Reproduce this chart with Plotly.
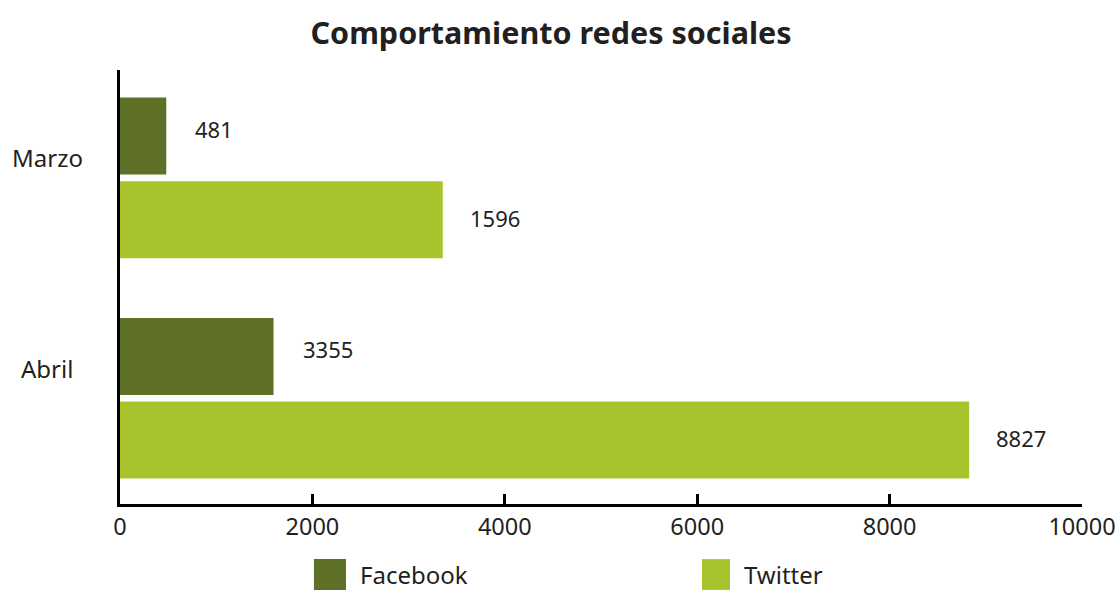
import plotly.graph_objects as go

months = ["Marzo", "Abril"]
facebook = [481, 1596]
twitter = [3355, 8827]
facebook_labels = ["481", "3355"]
twitter_labels = ["1596", "8827"]
x_ticks = [0, 2000, 4000, 6000, 8000, 10000]

FONT = "Noto Sans"
TXT = "#231f20"
FB_COLOR = "#5f7029"
TW_COLOR = "#a8c42d"

fig = go.Figure()
fig.add_trace(go.Bar(y=months, x=facebook, name="Facebook", orientation="h",
                     marker=dict(color=FB_COLOR, line=dict(width=0))))
fig.add_trace(go.Bar(y=months, x=twitter, name="Twitter", orientation="h",
                     marker=dict(color=TW_COLOR, line=dict(width=0))))

ann = []
for m, v, t in zip(months, facebook, facebook_labels):
    ann.append(dict(x=v, y=m, text=t, xref="x", yref="y", xanchor="left",
                    yanchor="middle", xshift=27, yshift=49, showarrow=False,
                    font=dict(family=FONT, size=22, color=TXT)))
for m, v, t in zip(months, twitter, twitter_labels):
    ann.append(dict(x=v, y=m, text=t, xref="x", yref="y", xanchor="left",
                    yanchor="middle", xshift=25, yshift=-40, showarrow=False,
                    font=dict(family=FONT, size=22, color=TXT)))
for m, ys in zip(months, [20, 30]):
    ann.append(dict(x=0, y=m, text=m, xref="paper", yref="y", xanchor="center",
                    yanchor="middle", xshift=-73, yshift=ys, showarrow=False,
                    font=dict(family=FONT, size=24, color=TXT)))

# custom legend (large swatches like the reference)
shapes = []
leg_pos = [(0.2016, 0.2349, 0.2474), (0.6050, 0.6341, 0.6466)]
for tr, (x0, x1, xt) in zip(fig.data, leg_pos):
    shapes.append(dict(type="rect", xref="paper", yref="paper", x0=x0, x1=x1,
                       y0=-0.198, y1=-0.127, fillcolor=tr.marker.color,
                       line=dict(width=0), layer="above"))
    ann.append(dict(x=xt, y=-0.163, xref="paper", yref="paper", text=tr.name,
                    xanchor="left", yanchor="middle", showarrow=False,
                    font=dict(family=FONT, size=24, color=TXT)))

fig.update_layout(
    width=1117, height=590,
    margin=dict(l=120, r=35, t=70, b=86, autoexpand=False),
    paper_bgcolor="white", plot_bgcolor="white",
    title=dict(text="<b>Comportamiento redes sociales</b>", x=0.4933, xanchor="center",
               xref="container", y=0.944, yanchor="middle",
               font=dict(family=FONT, size=30.5, color=TXT)),
    barmode="group", bargap=0.24, bargroupgap=0.08,
    font=dict(family=FONT, size=22, color=TXT),
    showlegend=False,
    annotations=ann,
    shapes=shapes,
)
fig.update_xaxes(range=[0, 10000], tickvals=x_ticks, ticktext=[str(v) for v in x_ticks],
                 showline=True, linecolor="black", linewidth=2.5, ticks="inside",
                 ticklen=10, tickwidth=2.5, tickcolor="black", showgrid=False,
                 zeroline=False, automargin=False, ticklabeloverflow="allow",
                 tickfont=dict(family=FONT, size=23.5, color=TXT))
fig.update_yaxes(categoryorder="array", categoryarray=months, range=[1.48, -0.49],
                 showline=True, linecolor="black", linewidth=2.5, showticklabels=False,
                 ticks="", showgrid=False, zeroline=False, automargin=False)

# remove the default page margin so the figure fills the window exactly
fig.write_html("out.html",
               config={"displayModeBar": False},
               post_script="document.body.style.margin='0';"
                           "document.body.style.overflow='hidden';")
